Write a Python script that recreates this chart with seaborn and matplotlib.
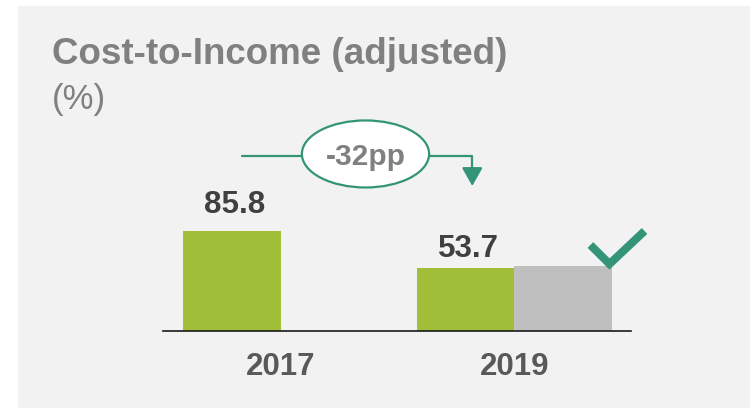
import numpy as np
import pandas as pd
import matplotlib
matplotlib.use("Agg")
import matplotlib.pyplot as plt
import seaborn as sns
from matplotlib.patches import Ellipse, Rectangle, FancyArrowPatch

# ---- data ----
years = ["2017", "2019"]
series = ["Actual", "Target"]
actual = [85.8, 53.7]
target = [np.nan, 56.0]
value_labels = ["85.8", "53.7"]
change_label = "-32pp"
title = "Cost-to-Income (adjusted)"
subtitle = "(%)"

# ---- style ----
sns.set_theme(style="white")
plt.rcParams["font.family"] = ["Liberation Sans", "DejaVu Sans"]

GREEN = "#A0BE37"
GREY_BAR = "#BFBFBF"
TEAL = "#339478"
BG = "#F2F2F2"

df = pd.DataFrame({
    "year": years * 2,
    "series": [series[0]] * len(years) + [series[1]] * len(years),
    "value": actual + target,
})

W, H = 750, 408
fig = plt.figure(figsize=(W / 100, H / 100), dpi=100)
fig.patch.set_facecolor("white")
fig.patches.append(Rectangle((18 / W, 0), 1, (H - 6) / H, transform=fig.transFigure,
                             facecolor=BG, edgecolor="none", zorder=-10))

base_px = 331
px_per_unit = 1.1655
ytop = 185
ax = fig.add_axes([163 / W, (H - base_px) / H, 468 / W, ytop * px_per_unit / H])
ax.set_facecolor("none")

sns.barplot(data=df, x="year", y="value", hue="series", order=years, hue_order=series,
            palette=[GREEN, GREY_BAR], width=0.837, errorbar=None, legend=False,
            saturation=1, linewidth=0, ax=ax)

ax.set_xlim(-0.505, 1.5)
ax.set_ylim(0, ytop)
for s in ["left", "top", "right"]:
    ax.spines[s].set_visible(False)
ax.spines["bottom"].set_color("#1a1a1a")
ax.spines["bottom"].set_linewidth(1.2)
ax.set_yticks([])
ax.set_xlabel("")
ax.set_ylabel("")
ax.tick_params(axis="x", length=0, pad=15)
for lab in ax.get_xticklabels():
    lab.set_fontsize(22.5)
    lab.set_fontweight("bold")
    lab.set_color("#595959")

# value labels above actual bars
offsets_pt = [13, 8]
for bar, txt, off in zip(ax.containers[0], value_labels, offsets_pt):
    x = bar.get_x() + bar.get_width() / 2
    y = bar.get_height()
    ax.annotate(txt, (x, y), xytext=(2, off), textcoords="offset points",
                ha="center", va="baseline", fontsize=22.5, fontweight="bold",
                color="#404040")

# change annotation: line -> ellipse -> elbow arrow
line_y = 150.2
ax.plot([-0.167, 0.09], [line_y, line_y], color=TEAL, lw=1.6, clip_on=False)
ax.plot([0.635, 0.82, 0.82], [line_y, line_y, 135], color=TEAL, lw=1.6, clip_on=False)
arrow = FancyArrowPatch((0.82, 140), (0.82, 124.4), arrowstyle="-|>,head_length=0.8,head_width=0.45",
                        mutation_scale=14, color=TEAL, lw=1.6, shrinkA=0, shrinkB=0, clip_on=False)
ax.add_patch(arrow)
ell = Ellipse((0.3625, 151.9), 0.545, 57.5, facecolor="white", edgecolor=TEAL, lw=1.6,
              clip_on=False, zorder=3)
ax.add_patch(ell)
ax.text(0.3625, 151.9, change_label, ha="center", va="center_baseline", fontsize=21.5,
        fontweight="bold", color="#808080", zorder=4)

# check mark
ax.plot([1.326, 1.408, 1.558], [73.8, 57.5, 85.8], color=TEAL, lw=5.8,
        solid_joinstyle="miter", solid_capstyle="butt", clip_on=False, zorder=4)

# titles
fig.text(51.5 / W, (H - 64.5) / H, title, ha="left", va="baseline", fontsize=26.5,
         fontweight="bold", color="#808080")
fig.text(51.5 / W, (H - 109) / H, subtitle, ha="left", va="baseline", fontsize=25,
         color="#808080")

fig.savefig("out.png", dpi=100, facecolor=fig.get_facecolor())
